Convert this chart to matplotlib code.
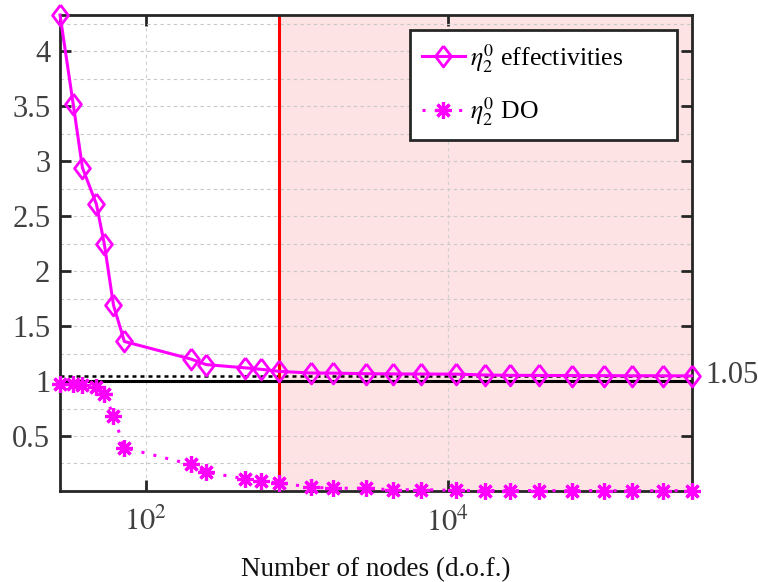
import numpy as np
import matplotlib
matplotlib.use("Agg")
import matplotlib.pyplot as plt
from matplotlib.ticker import FixedLocator, MultipleLocator, NullFormatter

# ---- data ----
nodes = [27, 33, 38, 47, 53, 61, 72, 199, 250, 455, 578, 764, 1233, 1740,
         2850, 4340, 6620, 11300, 17700, 25700, 40300, 66600, 108000,
         166000, 264000, 411000]
eta_eff = [4.33, 3.52, 2.94, 2.61, 2.25, 1.69, 1.36, 1.20, 1.15, 1.12,
           1.107, 1.088, 1.073, 1.072, 1.067, 1.065, 1.064, 1.063, 1.055,
           1.052, 1.051, 1.050, 1.049, 1.048, 1.048, 1.047]
eta_do = [0.976, 0.970, 0.967, 0.945, 0.885, 0.685, 0.393, 0.241, 0.171,
          0.110, 0.088, 0.074, 0.034, 0.025, 0.025, 0.010, 0.012, 0.005,
          0.004, 0.004, 0.003, 0.003, 0.003, 0.003, 0.003, 0.003]
yticks = [0.5, 1, 1.5, 2, 2.5, 3, 3.5, 4]
ytick_labels = ["0.5", "1", "1.5", "2", "2.5", "3", "3.5", "4"]
xticks = [1e2, 1e4]
xtick_labels = [r"$10^2$", r"$10^4$"]
x_threshold = 764
ref_level = 1.05

plt.rcParams["font.family"] = ["Liberation Serif", "DejaVu Serif"]
plt.rcParams["mathtext.fontset"] = "stix"

fig = plt.figure(figsize=(7.58, 5.82), dpi=100)
ax = fig.add_axes([0.0792, 0.1564, 0.9125 - 0.0792, 0.9742 - 0.1564])

magenta = "#ff00ff"
# MATLAB-style diamond (a bit taller than wide)
diamond = [(0, 1), (0.76, 0), (0, -1), (-0.76, 0), (0, 1)]

ax.axvspan(x_threshold, nodes[-1], color="#fde3e3", zorder=0, lw=0)

ax.axhline(1.0, color="black", lw=2.2, zorder=2)
ax.axhline(ref_level, color="black", lw=1.8, ls=(0, (1.6, 1.6)), zorder=2)

ax.plot(nodes, eta_eff, color=magenta, lw=2.2, marker=diamond, markersize=15,
        markerfacecolor="none", markeredgewidth=2, zorder=6, clip_on=False,
        label=r"$\eta_2^0$ effectivities")
ax.plot(nodes, eta_do, color=magenta, lw=2.2, ls=(0, (1, 3)),
        marker=(8, 2, 0), markersize=12, markeredgewidth=2.3, zorder=6,
        clip_on=False, label=r"$\eta_2^0$ DO")

ax.axvline(x_threshold, color="red", lw=2.2, zorder=3)

ax.set_xscale("log")
ax.set_xlim(nodes[0], nodes[-1])
ax.set_ylim(0, eta_eff[0])

ax.xaxis.set_major_locator(FixedLocator(xticks))
ax.xaxis.set_minor_locator(FixedLocator([]))
ax.xaxis.set_minor_formatter(NullFormatter())
ax.set_xticklabels(xtick_labels)
ax.yaxis.set_minor_locator(MultipleLocator(0.25))
ax.set_yticks(yticks)
ax.set_yticklabels(ytick_labels)

ax.set_axisbelow(True)
ax.grid(which="major", axis="x", color="#d0d0d0", ls=(0, (3, 3)), lw=0.8)
ax.grid(which="both", axis="y", color="#c8c8c8", ls=(0, (3, 3)), lw=0.8)

ax.tick_params(which="major", direction="in", length=8, width=2,
               top=True, right=True, labelsize=22, colors="#262626",
               labelcolor="#404040", pad=7)
ax.tick_params(axis="x", which="major", pad=12)
ax.tick_params(which="minor", length=0)
for s in ax.spines.values():
    s.set_linewidth(2)
    s.set_color("#262626")
    s.set_zorder(5)

ax.text(1.022, ref_level, "1.05", transform=ax.get_yaxis_transform(),
        va="center", ha="left", fontsize=22, color="#404040")

ax.set_xlabel("Number of nodes (d.o.f.)", fontsize=19.5, color="#111111", labelpad=14)

leg = ax.legend(loc="upper left", bbox_to_anchor=(0.554, 0.0, 0.422, 0.968),
                mode="expand", borderaxespad=0, fontsize=18.5, frameon=True,
                fancybox=False, labelspacing=0.8, handlelength=1.7,
                handletextpad=0.2, borderpad=0.45)
leg.get_frame().set_edgecolor("#262626")
leg.get_frame().set_linewidth(2)
leg.get_frame().set_alpha(1)
leg.set_zorder(7)

fig.savefig("out.png", dpi=100)
